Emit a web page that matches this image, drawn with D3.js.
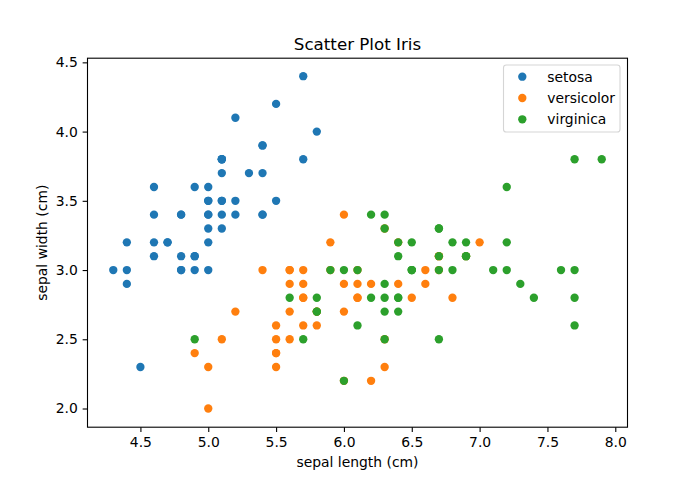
<!DOCTYPE html>
<html>
<head>
<meta charset="utf-8">
<script src="https://cdn.jsdelivr.net/npm/d3@7"></script>
<style>
  html, body { margin: 0; padding: 0; background: #fff; }
  svg { display: block; }
  text { font-family: "DejaVu Sans", sans-serif; fill: #000; }
</style>
</head>
<body>
<svg id="chart" width="697" height="480"></svg>
<script>
// Iris sepal measurements
const species = ["setosa", "versicolor", "virginica"];
const colors = ["#1f77b4", "#ff7f0e", "#2ca02c"];

const setosaLength = [5.1,4.9,4.7,4.6,5.0,5.4,4.6,5.0,4.4,4.9,5.4,4.8,4.8,4.3,5.8,5.7,5.4,5.1,5.7,5.1,5.4,5.1,4.6,5.1,4.8,5.0,5.0,5.2,5.2,4.7,4.8,5.4,5.2,5.5,4.9,5.0,5.5,4.9,4.4,5.1,5.0,4.5,4.4,5.0,5.1,4.8,5.1,4.6,5.3,5.0];
const setosaWidth  = [3.5,3.0,3.2,3.1,3.6,3.9,3.4,3.4,2.9,3.1,3.7,3.4,3.0,3.0,4.0,4.4,3.9,3.5,3.8,3.8,3.4,3.7,3.6,3.3,3.4,3.0,3.4,3.5,3.4,3.2,3.1,3.4,4.1,4.2,3.1,3.2,3.5,3.6,3.0,3.4,3.5,2.3,3.2,3.5,3.8,3.0,3.8,3.2,3.7,3.3];

const versicolorLength = [7.0,6.4,6.9,5.5,6.5,5.7,6.3,4.9,6.6,5.2,5.0,5.9,6.0,6.1,5.6,6.7,5.6,5.8,6.2,5.6,5.9,6.1,6.3,6.1,6.4,6.6,6.8,6.7,6.0,5.7,5.5,5.5,5.8,6.0,5.4,6.0,6.7,6.3,5.6,5.5,5.5,6.1,5.8,5.0,5.6,5.7,5.7,6.2,5.1,5.7];
const versicolorWidth  = [3.2,3.2,3.1,2.3,2.8,2.8,3.3,2.4,2.9,2.7,2.0,3.0,2.2,2.9,2.9,3.1,3.0,2.7,2.2,2.5,3.2,2.8,2.5,2.8,2.9,3.0,2.8,3.0,2.9,2.6,2.4,2.4,2.7,2.7,3.0,3.4,3.1,2.3,3.0,2.5,2.6,3.0,2.6,2.3,2.7,3.0,2.9,2.9,2.5,2.8];

const virginicaLength = [6.3,5.8,7.1,6.3,6.5,7.6,4.9,7.3,6.7,7.2,6.5,6.4,6.8,5.7,5.8,6.4,6.5,7.7,7.7,6.0,6.9,5.6,7.7,6.3,6.7,7.2,6.2,6.1,6.4,7.2,7.4,7.9,6.4,6.3,6.1,7.7,6.3,6.4,6.0,6.9,6.7,6.9,5.8,6.8,6.7,6.7,6.3,6.5,6.2,5.9];
const virginicaWidth  = [3.3,2.7,3.0,2.9,3.0,3.0,2.5,2.9,2.5,3.6,3.2,2.7,3.0,2.5,2.8,3.2,3.0,3.8,2.6,2.2,3.2,2.8,2.8,2.7,3.3,3.2,2.8,3.0,2.8,3.0,2.8,3.8,2.8,2.8,2.6,3.0,3.4,3.1,3.0,3.1,3.1,3.1,2.7,3.2,3.3,3.0,2.5,3.0,3.4,3.0];

const xTicks = [4.5, 5.0, 5.5, 6.0, 6.5, 7.0, 7.5, 8.0];
const yTicks = [2.0, 2.5, 3.0, 3.5, 4.0, 4.5];
const xDomain = [4.11, 8.09];
const yDomain = [1.865, 4.53];

const titleText = "Scatter Plot Iris";
const xLabelText = "sepal length (cm)";
const yLabelText = "sepal width (cm)";

const series = [
  { name: species[0], color: colors[0], xs: setosaLength, ys: setosaWidth },
  { name: species[1], color: colors[1], xs: versicolorLength, ys: versicolorWidth },
  { name: species[2], color: colors[2], xs: virginicaLength, ys: virginicaWidth }
];

const svg = d3.select("#chart");
const pLeft = 87.5, pRight = 627.5, pTop = 58.2, pBottom = 427.2;

const x = d3.scaleLinear().domain(xDomain).range([pLeft, pRight]);
const y = d3.scaleLinear().domain(yDomain).range([pBottom, pTop]);

// points
series.forEach(s => {
  const pts = s.xs.map((v, i) => [v, s.ys[i]]);
  svg.append("g").selectAll("circle").data(pts).join("circle")
    .attr("cx", d => x(d[0]))
    .attr("cy", d => y(d[1]))
    .attr("r", 4.17)
    .attr("fill", s.color);
});

// axes
const fmt = d3.format(".1f");
const xAxis = svg.append("g").attr("transform", `translate(0,${pBottom})`)
  .call(d3.axisBottom(x).tickValues(xTicks).tickFormat(fmt).tickSize(4.86).tickPadding(4.86).tickSizeOuter(0));
const yAxis = svg.append("g").attr("transform", `translate(${pLeft},0)`)
  .call(d3.axisLeft(y).tickValues(yTicks).tickFormat(fmt).tickSize(4.86).tickPadding(4.86).tickSizeOuter(0));
[xAxis, yAxis].forEach(a => {
  a.select(".domain").remove();
  a.selectAll(".tick line").attr("stroke", "#000").attr("stroke-width", 1.1);
  a.selectAll(".tick text").attr("font-family", "DejaVu Sans").attr("font-size", 13.9).attr("fill", "#000");
});

// frame
svg.append("rect")
  .attr("x", pLeft).attr("y", pTop)
  .attr("width", pRight - pLeft).attr("height", pBottom - pTop)
  .attr("fill", "none").attr("stroke", "#000").attr("stroke-width", 1.1);

// title and labels
svg.append("text").attr("x", (pLeft + pRight) / 2).attr("y", 50)
  .attr("text-anchor", "middle").attr("font-size", 16.7).text(titleText);
svg.append("text").attr("x", (pLeft + pRight) / 2).attr("y", 467)
  .attr("text-anchor", "middle").attr("font-size", 13.9).text(xLabelText);
svg.append("text")
  .attr("transform", `translate(47,${(pTop + pBottom) / 2}) rotate(-90)`)
  .attr("text-anchor", "middle").attr("font-size", 13.9).text(yLabelText);

// legend
const lg = svg.append("g");
lg.append("rect")
  .attr("x", 503.5).attr("y", 65).attr("width", 116.5).attr("height", 67)
  .attr("rx", 2.8).attr("fill", "#fff").attr("fill-opacity", 0.8)
  .attr("stroke", "#d5d5d5").attr("stroke-width", 1.1);
series.forEach((s, i) => {
  const cy = 76.7 + i * 21.3;
  lg.append("circle").attr("cx", 522.3).attr("cy", cy).attr("r", 4.17).attr("fill", s.color);
  lg.append("text").attr("x", 547.3).attr("y", cy + 5).attr("font-size", 13.9).text(s.name);
});
</script>
</body>
</html>
